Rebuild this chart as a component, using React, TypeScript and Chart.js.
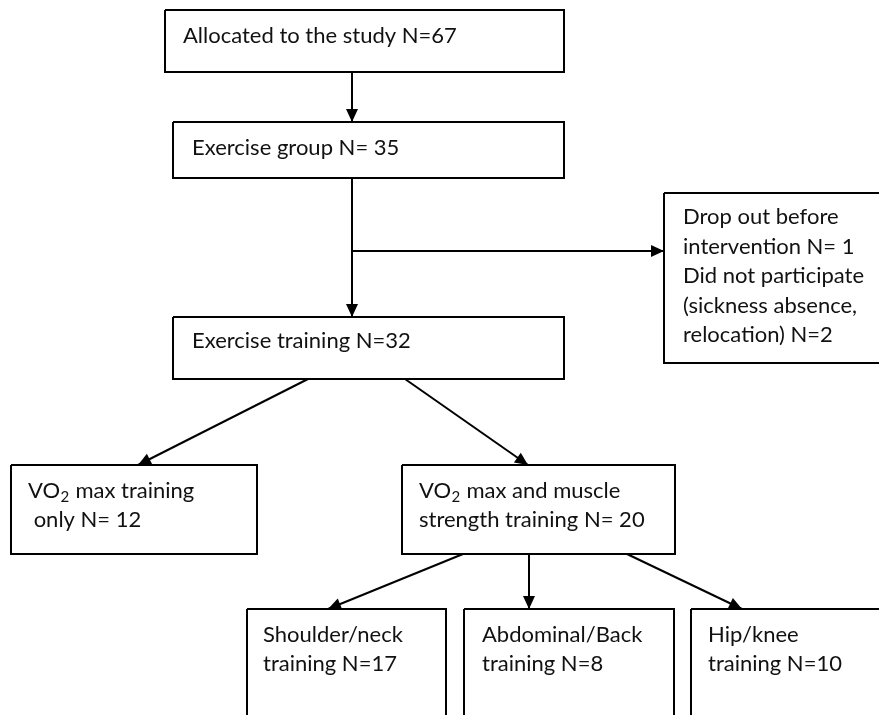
import React, { useEffect, useRef } from "react";
import { Chart, registerables } from "chart.js";

Chart.register(...registerables);

// ---- Flowchart content ----
const nodeLabels: string[][] = [
  ["Allocated to the study N=67"],
  ["Exercise group N= 35"],
  ["Drop out before", "intervention N= 1", "Did not participate", "(sickness absence,", "relocation) N=2"],
  ["Exercise training N=32"],
  ["VO₂ max training", " only N= 12"],
  ["VO₂ max and muscle", "strength training N= 20"],
  ["Shoulder/neck", "training N=17"],
  ["Abdominal/Back", "training N=8"],
  ["Hip/knee", "training N=10"],
];

// ---- Layout (in diagram units, mapped through the chart's scales) ----
const boxLeft = [165, 173, 664, 173, 11, 402, 247, 464, 691];
const boxTop = [10, 122, 193, 317, 465, 465, 609, 609, 609];
const boxRight = [564, 564, 890, 564, 257, 675, 446, 674, 890];
const boxBottom = [72, 178, 363, 379, 554, 554, 730, 730, 730];
const textX = [183, 192, 683, 192, 28, 419, 263, 482, 708];
const textBaseline = [43, 155, 224, 348, 498, 498, 642, 642, 642];
const lineStep = [29, 29, 29.5, 29, 29, 29, 28.5, 28.5, 28.5];

// edges
const edgeFromX = [352, 352, 352, 308, 405, 463, 529, 627];
const edgeFromY = [72, 178, 251, 379, 379, 554, 554, 554];
const edgeToX = [352, 352, 664, 138, 528, 328, 529, 742];
const edgeToY = [122, 317, 251, 465, 465, 609, 609, 609];

const FONT_FAMILY = "Lato, 'Open Sans', sans-serif";
const FONT_SIZE = 22;

export default function App() {
  const ref = useRef<HTMLCanvasElement | null>(null);

  useEffect(() => {
    if (!ref.current) return;

    const datasets: any[] = [];
    for (let i = 0; i < nodeLabels.length; i++) {
      datasets.push({
        label: "box" + i,
        data: [
          { x: boxLeft[i], y: boxTop[i] },
          { x: boxRight[i], y: boxTop[i] },
          { x: boxRight[i], y: boxBottom[i] },
          { x: boxLeft[i], y: boxBottom[i] },
          { x: boxLeft[i], y: boxTop[i] },
        ],
        borderColor: "#000",
        borderWidth: 2,
        pointRadius: 0,
        fill: false,
        tension: 0,
        showLine: true,
        borderJoinStyle: "miter",
      });
    }
    for (let i = 0; i < edgeFromX.length; i++) {
      datasets.push({
        label: "edge" + i,
        data: [
          { x: edgeFromX[i], y: edgeFromY[i] },
          { x: edgeToX[i], y: edgeToY[i] },
        ],
        borderColor: "#000",
        borderWidth: 2,
        pointRadius: 0,
        fill: false,
        tension: 0,
        showLine: true,
      });
    }

    const overlay = {
      id: "flowOverlay",
      afterDatasetsDraw(chart: any) {
        const ctx = chart.ctx as CanvasRenderingContext2D;
        const xs = chart.scales.x;
        const ys = chart.scales.y;
        ctx.save();
        // arrow heads
        ctx.fillStyle = "#000";
        for (let i = 0; i < edgeFromX.length; i++) {
          const x1 = xs.getPixelForValue(edgeFromX[i]);
          const y1 = ys.getPixelForValue(edgeFromY[i]);
          const x2 = xs.getPixelForValue(edgeToX[i]);
          const y2 = ys.getPixelForValue(edgeToY[i]);
          const ang = Math.atan2(y2 - y1, x2 - x1);
          const len = 13;
          const half = 6;
          const bx = x2 - len * Math.cos(ang);
          const by = y2 - len * Math.sin(ang);
          ctx.beginPath();
          ctx.moveTo(x2, y2);
          ctx.lineTo(bx + half * Math.sin(ang), by - half * Math.cos(ang));
          ctx.lineTo(bx - half * Math.sin(ang), by + half * Math.cos(ang));
          ctx.closePath();
          ctx.fill();
        }
        // labels
        ctx.fillStyle = "#111";
        ctx.textBaseline = "alphabetic";
        ctx.textAlign = "left";
        const mainFont = `${FONT_SIZE}px ${FONT_FAMILY}`;
        const subFont = `${Math.round(FONT_SIZE * 0.66)}px ${FONT_FAMILY}`;
        for (let i = 0; i < nodeLabels.length; i++) {
          const lines = nodeLabels[i];
          for (let j = 0; j < lines.length; j++) {
            let x = xs.getPixelForValue(textX[i]);
            const y = ys.getPixelForValue(textBaseline[i] + j * lineStep[i]);
            const parts = lines[j].split("₂");
            for (let k = 0; k < parts.length; k++) {
              ctx.font = mainFont;
              ctx.fillText(parts[k], x, y);
              x += ctx.measureText(parts[k]).width;
              if (k < parts.length - 1) {
                ctx.font = subFont;
                ctx.fillText("2", x + 0.5, y + 4);
                x += ctx.measureText("2").width + 1;
              }
            }
          }
        }
        ctx.restore();
      },
    };

    const chart = new Chart(ref.current, {
      type: "scatter",
      data: { datasets },
      options: {
        animation: false,
        responsive: false,
        maintainAspectRatio: false,
        layout: { padding: 0 },
        plugins: {
          legend: { display: false },
          tooltip: { enabled: false },
          title: { display: false },
        },
        scales: {
          x: { type: "linear", min: 0, max: 879, display: false },
          y: { type: "linear", min: 0, max: 715, reverse: true, display: false },
        },
        events: [],
      },
      plugins: [overlay],
    } as any);

    return () => chart.destroy();
  }, []);

  return (
    <div style={{ position: "fixed", left: 0, top: 0, width: 879, height: 715, background: "#fff" }}>
      <canvas ref={ref} width={879} height={715} style={{ width: 879, height: 715 }} />
    </div>
  );
}
